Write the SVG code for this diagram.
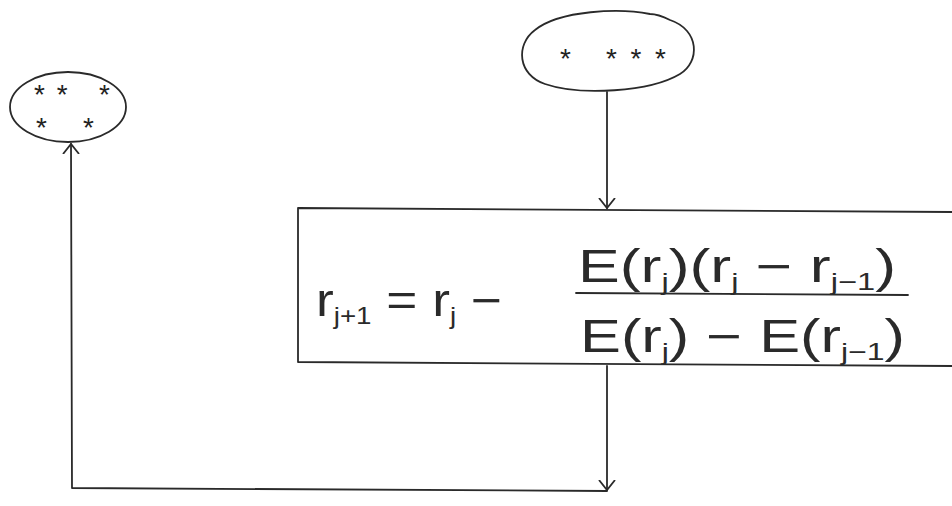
<svg xmlns="http://www.w3.org/2000/svg" width="952" height="506" viewBox="0 0 952 506">
<defs>
<style>
.ln{fill:none;stroke:#2a2a2a;stroke-width:1.8;stroke-linecap:round;stroke-linejoin:round}
.st{font-family:"Liberation Sans",Arial,sans-serif;font-size:28px;fill:#222}
.fm{font-family:"Liberation Sans",Arial,sans-serif;font-size:46px;fill:#2a2a2a;font-weight:300}
.sb{font-size:24px}
</style>
<marker id="v" viewBox="0 0 20 20" refX="10" refY="10" markerWidth="20" markerHeight="20" markerUnits="userSpaceOnUse" orient="auto">
<path d="M0 2 L10 10 L0 18" fill="none" stroke="#2a2a2a" stroke-width="1.8"/>
</marker>
</defs>
<rect width="952" height="506" fill="#fff"/>
<g id="node-left">
<ellipse class="ln" cx="68" cy="107" rx="58" ry="35"/>
<text class="st" x="34" y="104" textLength="76" lengthAdjust="spacing">** *</text>
<text class="st" x="36" y="137" textLength="58" lengthAdjust="spacing">* *</text>
</g>
<g id="node-top">
<path class="ln" d="M650 14 C620 8 560 10 535 30 C515 45 518 75 545 84 C580 96 650 92 680 74 C700 62 700 30 670 20 C662 16 655 14 650 14 Z"/>
<text class="st" x="560" y="68" textLength="106" lengthAdjust="spacing">* ***</text>
</g>
<g id="node-box">
<path class="ln" d="M298 208 L952 212 M298 208 L298 362 L952 366"/>
<text class="fm" x="316" y="316" font-size="54" textLength="186" lengthAdjust="spacingAndGlyphs">r<tspan class="sb" font-size="26" dy="8">j+1</tspan><tspan dy="-8"> = r</tspan><tspan class="sb" font-size="26" dy="8">j</tspan><tspan dy="-8">  −</tspan></text>
<text class="fm" x="578" y="282" textLength="318" lengthAdjust="spacingAndGlyphs">E(r<tspan class="sb" dy="8">j</tspan><tspan dy="-8">)(r</tspan><tspan class="sb" dy="8">j</tspan><tspan dy="-8"> − r</tspan><tspan class="sb" dy="8">j−1</tspan><tspan dy="-8">)</tspan></text>
<line class="ln" x1="576" y1="293" x2="908" y2="295"/>
<text class="fm" x="580" y="352" textLength="325" lengthAdjust="spacingAndGlyphs">E(r<tspan class="sb" dy="8">j</tspan><tspan dy="-8">) − E(r</tspan><tspan class="sb" dy="8">j−1</tspan><tspan dy="-8">)</tspan></text>
</g>
<g id="connectors">
<path class="ln" d="M607 92 L607 208" marker-end="url(#v)"/>
<path class="ln" d="M607 366 L607 490" marker-end="url(#v)"/>
<path class="ln" d="M607 491 L72 488 L71 144" marker-end="url(#v)"/>
</g>
</svg>
